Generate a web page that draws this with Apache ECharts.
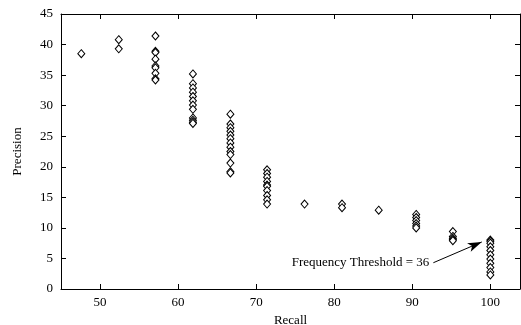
<!DOCTYPE html>
<html><head><meta charset="utf-8">
<script src="https://cdn.jsdelivr.net/npm/echarts@6/dist/echarts.min.js"></script>
<style>html,body{margin:0;padding:0;background:#fff}#c{width:521px;height:325px}</style>
</head><body><div id="c"></div>
<script>
const recall = [47.6, 52.4, 57.1, 61.9, 66.7, 71.4, 76.2, 81.0, 85.7, 90.5, 95.2, 100.0];
const precision = [
  [38.5],
  [40.8, 39.3],
  [41.4, 38.9, 38.7, 37.6, 36.5, 36.2, 35.3, 34.4, 34.2],
  [35.2, 33.6, 32.9, 32.2, 31.5, 30.8, 30.1, 29.4, 28.0, 27.6, 27.3, 27.1],
  [28.6, 27.0, 26.4, 25.8, 25.2, 24.6, 23.9, 23.2, 22.5, 22.0, 20.6, 19.2, 19.0],
  [19.5, 18.9, 18.3, 17.6, 17.0, 16.8, 16.1, 15.3, 14.6, 13.9],
  [13.9],
  [13.9, 13.3],
  [12.9],
  [12.2, 11.7, 11.2, 10.7, 10.3, 10.0],
  [9.4, 8.6, 8.3, 8.1, 7.9],
  [8.0, 7.8, 7.5, 6.9, 6.3, 5.6, 4.9, 4.2, 3.5, 2.8, 2.3]
];
const xTicks = [50, 60, 70, 80, 90, 100];
const annotationText = 'Frequency Threshold = 36';
const arrowFrom = [92.7, 4.3];
const arrowTo = [98.9, 7.7];

const points = [];
recall.forEach((r, i) => precision[i].forEach(p => points.push([r, p])));

const font = 'Liberation Serif';
const chart = echarts.init(document.getElementById('c'), null, {renderer: 'canvas'});
const axisCommon = {
  axisLine: {show: true, onZero: false, lineStyle: {color: '#000', width: 1}},
  axisTick: {show: true, inside: true, length: 5, lineStyle: {color: '#000'}},
  splitLine: {show: false},
  axisLabel: {color: '#000', fontFamily: font, fontSize: 13}
};
chart.setOption({
  animation: false,
  backgroundColor: '#fff',
  grid: {left: 61, right: 1, top: 14, bottom: 36, containLabel: false, outerBoundsMode: 'none'},
  xAxis: [
    Object.assign({}, axisCommon, {
      type: 'value', min: 45, max: 103.8, position: 'bottom',
      name: 'Recall', nameLocation: 'middle', nameGap: 23,
      nameTextStyle: {color: '#000', fontFamily: font, fontSize: 13},
      axisTick: Object.assign({}, axisCommon.axisTick, {customValues: xTicks}),
      axisLabel: Object.assign({}, axisCommon.axisLabel, {customValues: xTicks, margin: 7})
    }),
    Object.assign({}, axisCommon, {
      type: 'value', min: 45, max: 103.8, position: 'top',
      axisTick: Object.assign({}, axisCommon.axisTick, {customValues: xTicks}),
      axisLabel: {show: false}
    })
  ],
  yAxis: [
    Object.assign({}, axisCommon, {
      type: 'value', min: 0, max: 45, interval: 5, position: 'left',
      name: 'Precision', nameLocation: 'middle', nameGap: 37,
      nameTextStyle: {color: '#000', fontFamily: font, fontSize: 13},
      axisLabel: Object.assign({}, axisCommon.axisLabel, {margin: 8})
    }),
    Object.assign({}, axisCommon, {
      type: 'value', min: 0, max: 45, interval: 5, position: 'right',
      axisLabel: {show: false}
    })
  ],
  series: [{
    type: 'scatter',
    xAxisIndex: 0, yAxisIndex: 0,
    data: points,
    symbol: 'diamond',
    symbolSize: [7, 8],
    itemStyle: {color: '#fff', borderColor: '#000', borderWidth: 1, opacity: 1},
    markLine: {
      silent: true,
      symbol: ['none', 'arrow'],
      symbolSize: [7, 14],
      label: {show: false},
      lineStyle: {color: '#000', width: 1, type: 'solid'},
      data: [[{coord: arrowFrom}, {coord: arrowTo}]]
    }
  }]
});
const p = chart.convertToPixel({xAxisIndex: 0, yAxisIndex: 0}, [arrowFrom[0], arrowFrom[1]]);
chart.setOption({
  graphic: [{
    type: 'text', x: p[0] - 4, y: p[1],
    style: {text: annotationText, fill: '#000', font: '13px "Liberation Serif"', textAlign: 'right', textVerticalAlign: 'middle'}
  }]
});
</script></body></html>
